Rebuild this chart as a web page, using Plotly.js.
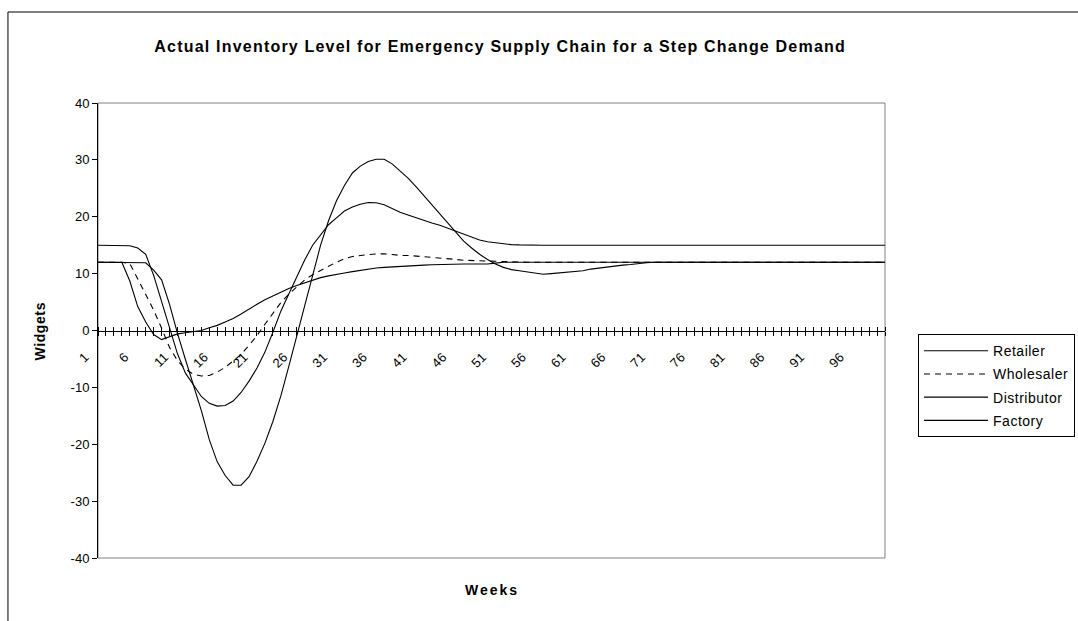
<!DOCTYPE html>
<html>
<head>
<meta charset="utf-8">
<script src="https://cdn.plot.ly/plotly-3.0.1.min.js"></script>
<style>
  html, body { margin: 0; padding: 0; background: #fff; }
  #chart { width: 1078px; height: 621px; }
  .legendtext { letter-spacing: 0.5px; }
</style>
</head>
<body>
<div id="chart"></div>
<script>
// ---- data ----
const weeks = Array.from({length: 100}, (_, i) => i + 1);
const tickWeeks = [1, 6, 11, 16, 21, 26, 31, 36, 41, 46, 51, 56, 61, 66, 71, 76, 81, 86, 91, 96];
const tickLabels = tickWeeks.map(String);
const yTickVals = [-40, -30, -20, -10, 0, 10, 20, 30, 40];
const yTickLabels = ["-40", "-30", "-20", "-10", "0", "10", "20", "30", "40"];
const seriesNames = ["Retailer", "Wholesaler", "Distributor", "Factory"];

const retailer = [
  12, 12, 12, 12, 8.7, 4.2, 1.5, -0.7, -1.6, -1.1,
  -0.6, -0.4, -0.25, 0, 0.5, 0.9, 1.5, 2.1, 2.9, 3.8,
  4.6, 5.4, 6.1, 6.8, 7.4, 7.9, 8.4, 8.9, 9.3, 9.6,
  9.9, 10.1, 10.35, 10.6, 10.8, 11.0, 11.1, 11.2, 11.3, 11.4,
  11.45, 11.5, 11.55, 11.6, 11.7, 11.7, 11.7, 11.7, 11.7, 11.7,
  11.85, 12, 12, 12, 12, 12, 12, 12, 12, 12,
  12, 12, 12, 12, 12, 12, 12, 12, 12, 12,
  12, 12, 12, 12, 12, 12, 12, 12, 12, 12,
  12, 12, 12, 12, 12, 12, 12, 12, 12, 12,
  12, 12, 12, 12, 12, 12, 12, 12, 12, 12
];
const wholesaler = [
  12, 12, 12, 12, 11.8, 9.0, 6.4, 3.6, 0.4, -3.0,
  -5.3, -6.8, -7.7, -8.0, -7.9, -7.3, -6.5, -5.4, -4.2, -2.6,
  -0.9, 1.1, 3.0, 4.9, 6.4, 7.7, 8.9, 9.8, 10.6, 11.3,
  12.0, 12.6, 13.0, 13.2, 13.35, 13.45, 13.5, 13.35, 13.2, 13.2,
  13.1, 13.0, 12.9, 12.75, 12.6, 12.5, 12.35, 12.3, 12.2, 12.15,
  12.1, 12.05, 12, 12, 12, 12, 12, 12, 12, 12,
  12, 12, 12, 12, 12, 12, 12, 12, 12, 12,
  12, 12, 12, 12, 12, 12, 12, 12, 12, 12,
  12, 12, 12, 12, 12, 12, 12, 12, 12, 12,
  12, 12, 12, 12, 12, 12, 12, 12, 12, 12
];
const distributor = [
  15, 15, 15, 15, 14.9, 14.5, 13.4, 9.7, 5.0, 0.3,
  -4.1, -7.5, -9.5, -11.6, -12.8, -13.3, -13.2, -12.4, -10.9, -8.9,
  -6.6, -3.8, -0.3, 3.4, 6.4, 9.5, 12.4, 15.0, 16.8, 18.6,
  19.8, 21.0, 21.7, 22.2, 22.5, 22.45, 22.1, 21.4, 20.8, 20.3,
  19.8, 19.4, 18.9, 18.5, 18.0, 17.5, 16.9, 16.4, 15.9, 15.6,
  15.4, 15.3, 15.1, 15.05, 15, 15, 15, 15, 15, 15,
  15, 15, 15, 15, 15, 15, 15, 15, 15, 15,
  15, 15, 15, 15, 15, 15, 15, 15, 15, 15,
  15, 15, 15, 15, 15, 15, 15, 15, 15, 15,
  15, 15, 15, 15, 15, 15, 15, 15, 15, 15
];
const factory = [
  12, 12, 12, 12, 12, 12, 11.9, 10.6, 8.9, 4.6,
  -0.5, -5.1, -9.6, -14.1, -19.2, -23.1, -25.5, -27.2, -27.2, -25.7,
  -23.0, -19.8, -16.0, -11.5, -6.3, -1.0, 4.5, 10.0, 15.0, 19.3,
  22.8, 25.5, 27.7, 28.9, 29.7, 30.1, 30.1, 29.3, 28.0, 26.8,
  25.3, 23.7, 22.0, 20.5, 18.8, 17.2, 15.7, 14.5, 13.4, 12.5,
  11.7, 11.1, 10.7, 10.5, 10.3, 10.1, 9.9, 10.0, 10.1, 10.2,
  10.3, 10.5, 10.8, 11.0, 11.2, 11.4, 11.5, 11.6, 11.8, 11.9,
  12, 12, 12, 12, 12, 12, 12, 12, 12, 12,
  12, 12, 12, 12, 12, 12, 12, 12, 12, 12,
  12, 12, 12, 12, 12, 12, 12, 12, 12, 12
];

const seriesValues = [retailer, wholesaler, distributor, factory];
const seriesDash = ["solid", "6px,5px", "solid", "solid"];

// ---- traces ----
const traces = seriesNames.map((name, i) => ({
  type: "scatter",
  mode: "lines",
  name: name,
  x: weeks,
  y: seriesValues[i],
  line: { color: "#000", width: 1.1, dash: seriesDash[i] },
  legendgroup: name,
  hoverinfo: "skip"
}));
// empty traces hosting the tick-mark axes (ticks crossing the x axis line)
traces.push({ type: "scatter", mode: "lines", x: [], y: [], xaxis: "x2", showlegend: false, hoverinfo: "skip" });
traces.push({ type: "scatter", mode: "lines", x: [], y: [], xaxis: "x3", showlegend: false, hoverinfo: "skip" });

const FONT = "Liberation Sans, Arial, Helvetica, sans-serif";

const tickAxisBase = {
  range: [1, 100],
  overlaying: "x",
  anchor: "free",
  position: 0.5,
  tickmode: "linear",
  tick0: 1,
  dtick: 1,
  ticks: "outside",
  ticklen: 4,
  tickwidth: 1,
  tickcolor: "#000",
  showticklabels: false,
  showline: false,
  showgrid: false,
  zeroline: false,
  fixedrange: true
};

const layout = {
  width: 1078,
  height: 621,
  margin: { l: 98, r: 193, t: 103, b: 63, autoexpand: false },
  paper_bgcolor: "#fff",
  plot_bgcolor: "#fff",
  font: { family: FONT, size: 13, color: "#000" },
  showlegend: true,
  title: {
    text: "<b><span style=\"letter-spacing:1.2px\">Actual Inventory Level for Emergency Supply Chain for a Step Change Demand</span></b>",
    font: { family: FONT, size: 16, color: "#000" },
    x: 0.511, xref: "paper", xanchor: "center",
    y: 0.926, yref: "container", yanchor: "middle"
  },
  xaxis: {
    range: [1, 100],
    anchor: "free",
    position: 0.5,
    tickmode: "array",
    tickvals: tickWeeks,
    ticktext: tickLabels,
    tickangle: -45,
    ticks: "",
    ticklabelshift: -13,
    ticklabelstandoff: 13,
    tickfont: { family: FONT, size: 13, color: "#000" },
    showline: true,
    linecolor: "#000",
    linewidth: 1,
    showgrid: false,
    zeroline: false,
    fixedrange: true
  },
  xaxis2: Object.assign({}, tickAxisBase, { side: "bottom" }),
  xaxis3: Object.assign({}, tickAxisBase, { side: "top" }),
  yaxis: {
    range: [-40, 40],
    anchor: "x",
    tickmode: "array",
    tickvals: yTickVals,
    ticktext: yTickLabels,
    ticks: "outside",
    ticklen: 5,
    tickcolor: "#000",
    tickfont: { family: FONT, size: 13, color: "#000" },
    showline: true,
    linecolor: "#000",
    linewidth: 1,
    showgrid: false,
    zeroline: false,
    fixedrange: true
  },
  legend: {
    x: 1.042, xref: "paper", xanchor: "left",
    y: 0.492, yref: "paper", yanchor: "top",
    bgcolor: "#fff",
    bordercolor: "#000",
    borderwidth: 1,
    font: { family: FONT, size: 14, color: "#000" },
    itemwidth: 64,
    tracegroupgap: 2,
    traceorder: "grouped"
  },
  annotations: [
    {
      text: "<b><span style=\"letter-spacing:2px\">Weeks</span></b>", xref: "paper", yref: "paper",
      x: 0.5, y: -0.0703, xanchor: "center", yanchor: "middle",
      showarrow: false, font: { family: FONT, size: 14, color: "#000" }
    },
    {
      text: "<b><span style=\"letter-spacing:0.6px\">Widgets</span></b>", xref: "paper", yref: "paper",
      x: -0.0737, y: 0.5, xanchor: "center", yanchor: "middle",
      textangle: -90, showarrow: false, font: { family: FONT, size: 14, color: "#000" }
    }
  ],
  shapes: [
    // plot area border (grey)
    { type: "rect", xref: "paper", yref: "paper", x0: 0, x1: 1, y0: 0, y1: 1,
      line: { color: "#808080", width: 1 }, layer: "below" },
    // chart area border (black)
    { type: "rect", xref: "paper", yref: "paper", x0: -0.1144, x1: 1.3, y0: -0.2, y1: 1.2,
      line: { color: "#000", width: 1 }, layer: "below" }
  ]
};

Plotly.newPlot("chart", traces, layout, { staticPlot: true, displayModeBar: false });
</script>
</body>
</html>
